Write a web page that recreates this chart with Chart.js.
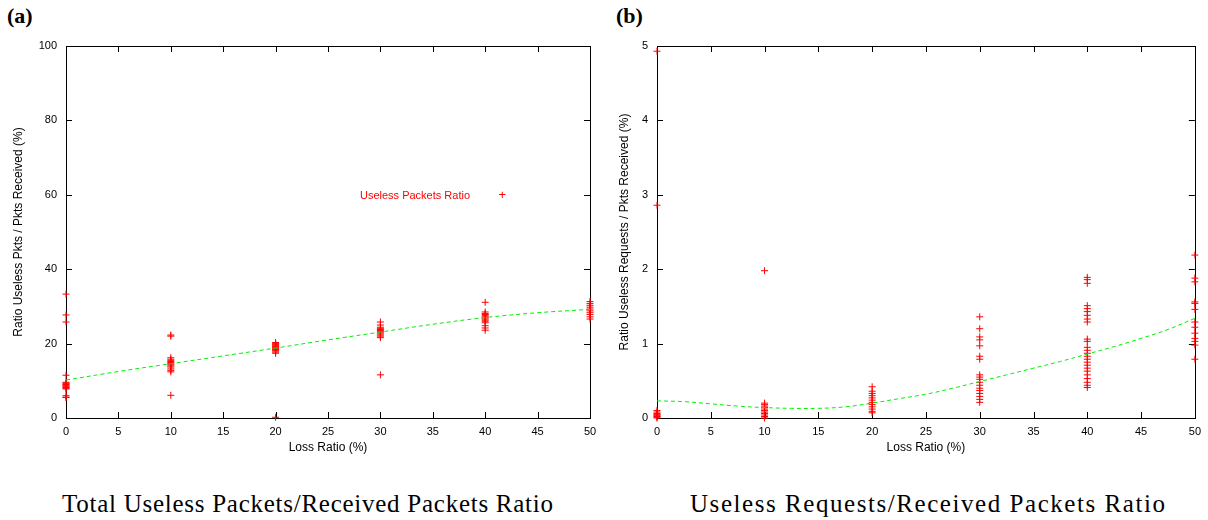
<!DOCTYPE html>
<html>
<head>
<meta charset="utf-8">
<script src="https://cdn.jsdelivr.net/npm/chart.js@4"></script>
<style>
  body { margin: 0; width: 1208px; height: 520px; background: #fff; position: relative; overflow: hidden; }
  canvas { position: absolute; top: 0; }
  .tag { position: absolute; top: 5px; font: bold 22px "Liberation Serif", serif; line-height: 1; }
  .cap { position: absolute; top: 491px; white-space: nowrap; font: 25px "Liberation Serif", serif; line-height: 1; }
  .key { position: absolute; left: 300px; top: 187px; width: 206px; font: 11px "Liberation Sans", sans-serif; color: #ff0000; text-align: right; }
  .key b { font-weight: normal; display: inline-block; width: 36px; text-align: right; font-size: 13px; }
</style>
</head>
<body>
<div class="tag" style="left:7px">(a)</div>
<div class="tag" style="left:616px">(b)</div>
<canvas id="chartA" width="604" height="470" style="left:0"></canvas>
<canvas id="chartB" width="604" height="470" style="left:604px"></canvas>
<div class="key">Useless Packets Ratio<b>+</b></div>
<div class="cap" id="capA">Total Useless Packets/Received Packets Ratio</div>
<div class="cap" id="capB">Useless Requests/Received Packets Ratio</div>
<script>
// loss ratios on the x axis, and tick labels
const LOSS = [0, 10, 20, 30, 40, 50];
const X_TICKS = ["0", "5", "10", "15", "20", "25", "30", "35", "40", "45", "50"];
const Y_TICKS_A = ["0", "20", "40", "60", "80", "100"];
const Y_TICKS_B = ["0", "1", "2", "3", "4", "5"];

// (a) useless pkts / pkts received (%), one array per loss ratio
const PKT_0 = [33.3, 27.7, 25.8, 11.5, 9.6, 9.4, 9.2, 9.0, 8.8, 8.6, 8.4, 8.2, 8.0, 7.8, 6.0, 5.6, 5.5];
const PKT_10 = [22.3, 22.0, 16.2, 15.8, 15.5, 15.2, 14.9, 14.6, 14.3, 14.0, 13.7, 13.2, 12.8, 12.4, 6.1];
const PKT_20 = [20.3, 20.0, 19.8, 19.6, 19.4, 19.2, 19.0, 18.8, 18.6, 18.4, 18.2, 18.0, 17.7, 17.4, 0.2];
const PKT_30 = [25.8, 25.0, 24.4, 24.1, 23.8, 23.5, 23.2, 22.9, 22.6, 22.3, 22.0, 21.6, 11.6];
const PKT_40 = [31.1, 28.5, 28.1, 27.8, 27.5, 27.2, 26.9, 26.6, 26.3, 26.0, 25.6, 24.8, 24.2, 23.6];
const PKT_50 = [31.3, 30.8, 30.3, 29.8, 29.3, 28.8, 28.3, 27.8, 27.2, 26.6];
// fitted curve for (a)
const FIT_X_A = [0, 5, 10, 15, 20, 25, 30, 35, 40, 45, 50];
const FIT_A = [10.2, 12.5, 14.6, 16.7, 18.8, 21.0, 23.1, 25.2, 27.0, 28.3, 29.2];

// (b) useless requests / pkts received (%)
const REQ_0 = [4.93, 2.86, 0.10, 0.08, 0.06, 0.05, 0.04, 0.03, 0.02, 0.01, 0.0];
const REQ_10 = [1.98, 0.20, 0.18, 0.16, 0.14, 0.12, 0.10, 0.08, 0.06, 0.04, 0.02, 0.0];
const REQ_20 = [0.42, 0.36, 0.33, 0.30, 0.27, 0.24, 0.21, 0.18, 0.15, 0.12, 0.09, 0.07];
const REQ_30 = [1.36, 1.20, 1.09, 1.05, 0.97, 0.83, 0.79, 0.58, 0.55, 0.52, 0.48, 0.44, 0.40, 0.37, 0.33, 0.29, 0.25, 0.21];
const REQ_40 = [1.89, 1.86, 1.81, 1.51, 1.47, 1.43, 1.38, 1.33, 1.29, 1.06, 1.03, 0.95, 0.91, 0.87, 0.83, 0.79,
                0.75, 0.71, 0.67, 0.63, 0.58, 0.53, 0.48, 0.44, 0.41];
const REQ_50 = [2.19, 1.88, 1.83, 1.56, 1.54, 1.46, 1.29, 1.22, 1.14, 1.07, 1.03, 0.98, 0.79];
// fitted curve for (b)
const FIT_X_B = [0, 2.5, 5, 7.5, 10, 12.5, 15, 17.5, 20, 22.5, 25, 27.5, 30, 32.5, 35, 37.5, 40, 42.5, 45, 47.5, 50];
const FIT_B = [0.23, 0.22, 0.19, 0.16, 0.14, 0.13, 0.13, 0.15, 0.20, 0.26, 0.32, 0.40, 0.49, 0.58, 0.67, 0.76, 0.86, 0.96, 1.07, 1.19, 1.34];

const FONT = { family: "'Liberation Sans', Arial, sans-serif", size: 11 };
const TITLE_FONT = { family: "'Liberation Sans', Arial, sans-serif", size: 12 };

function points(groups) {
  return groups.flatMap((vals, i) => vals.map(v => ({ x: LOSS[i], y: v })));
}

// gnuplot-style box with inward ticks on all four sides
const frame = {
  id: "frame",
  beforeDatasetsDraw(chart) {
    const { ctx, chartArea: a, scales: { x, y } } = chart;
    const L = 6;
    ctx.save();
    ctx.strokeStyle = "#000";
    ctx.lineWidth = 1;
    ctx.beginPath();
    for (const t of x.ticks) {
      const px = Math.round(x.getPixelForValue(t.value)) + 0.5;
      ctx.moveTo(px, a.bottom); ctx.lineTo(px, a.bottom - L);
      ctx.moveTo(px, a.top); ctx.lineTo(px, a.top + L);
    }
    for (const t of y.ticks) {
      const py = Math.round(y.getPixelForValue(t.value)) + 0.5;
      ctx.moveTo(a.left, py); ctx.lineTo(a.left + L, py);
      ctx.moveTo(a.right, py); ctx.lineTo(a.right - L, py);
    }
    ctx.stroke();
    ctx.strokeRect(Math.round(a.left) + 0.5, Math.round(a.top) + 0.5, Math.round(a.right - a.left), Math.round(a.bottom - a.top));
    ctx.restore();
  },
};

function makeChart(id, opt) {
  return new Chart(document.getElementById(id), {
    type: "scatter",
    data: {
      datasets: [
        {
          type: "line", data: opt.fitX.map((x, i) => ({ x, y: opt.fit[i] })),
          borderColor: "#00f000", borderWidth: 1, borderDash: [4, 3], pointRadius: 0, tension: 0.4, clip: false,
        },
        {
          data: points(opt.groups), pointStyle: "cross", pointRadius: 3.5, borderWidth: 1,
          borderColor: "#ff0000", backgroundColor: "#ff0000", clip: false,
        },
      ],
    },
    options: {
      responsive: false, animation: false,
      layout: { padding: { top: 46, right: opt.padRight, left: 0, bottom: 0 } },
      plugins: { legend: { display: false }, tooltip: { enabled: false } },
      scales: {
        x: {
          type: "linear", min: 0, max: 50,
          afterFit: s => { s.height = 52; },
          afterBuildTicks: s => { s.ticks = X_TICKS.map(v => ({ value: +v })); },
          ticks: { callback: (v, i) => X_TICKS[i], color: "#000", font: FONT, padding: 7, maxRotation: 0, autoSkip: false },
          grid: { display: false, drawTicks: false },
          border: { display: false },
          title: { display: true, text: "Loss Ratio (%)", color: "#000", font: TITLE_FONT, padding: { top: 0, bottom: 15 } },
        },
        y: {
          type: "linear", min: 0, max: opt.yMax,
          afterFit: s => { s.width = opt.yWidth; },
          afterBuildTicks: s => { s.ticks = opt.yTicks.map(v => ({ value: +v })); },
          ticks: { callback: (v, i) => opt.yTicks[i], color: "#000", font: FONT, padding: 9, autoSkip: false },
          grid: { display: false, drawTicks: false },
          border: { display: false },
          title: { display: true, text: opt.yTitle, color: "#000", font: TITLE_FONT, padding: { top: opt.titlePad, bottom: 0 } },
        },
      },
    },
    plugins: [frame],
  });
}

makeChart("chartA", {
  groups: [PKT_0, PKT_10, PKT_20, PKT_30, PKT_40, PKT_50], fitX: FIT_X_A, fit: FIT_A,
  yMax: 100, yTicks: Y_TICKS_A, yWidth: 66, padRight: 14, titlePad: 11,
  yTitle: "Ratio Useless Pkts / Pkts Received (%)",
});
makeChart("chartB", {
  groups: [REQ_0, REQ_10, REQ_20, REQ_30, REQ_40, REQ_50], fitX: FIT_X_B, fit: FIT_B,
  yMax: 5, yTicks: Y_TICKS_B, yWidth: 53, padRight: 12, titlePad: 13,
  yTitle: "Ratio Useless Requests / Pkts Received (%)",
});

// stretch the captions to the width the serif captions take in the figure
function fitCaption(id, left, right) {
  const el = document.getElementById(id);
  const n = el.textContent.length;
  const w = el.getBoundingClientRect().width;
  el.style.letterSpacing = ((right - left - w) / (n - 1)) + "px";
  el.style.left = left + "px";
}
fitCaption("capA", 62, 553);
fitCaption("capB", 690, 1165);
</script>
</body>
</html>
